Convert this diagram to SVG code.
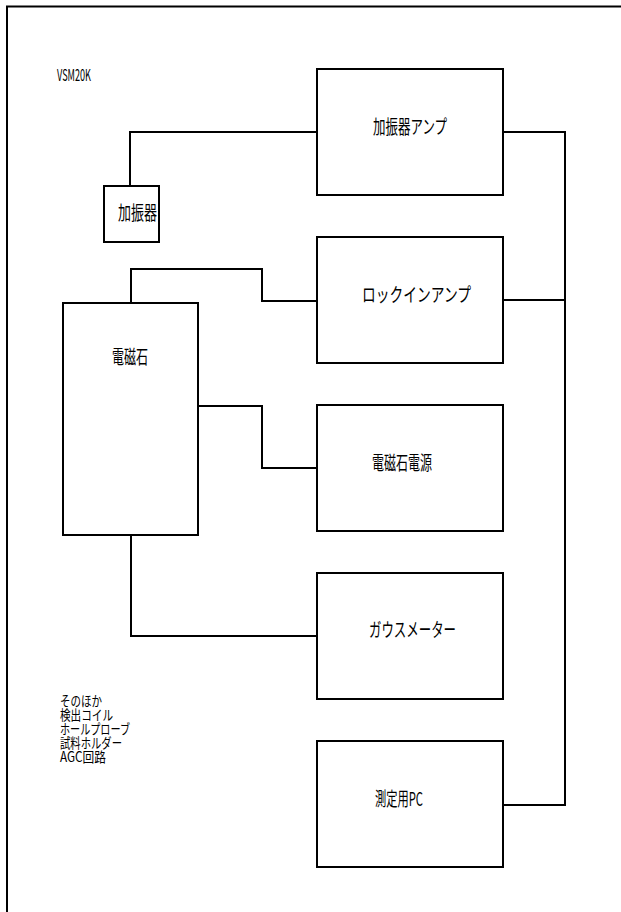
<svg xmlns="http://www.w3.org/2000/svg" width="621" height="912" viewBox="0 0 621 912">
<style>
.b{fill:#fff;stroke:#000;stroke-width:2}
.c{fill:none;stroke:#000;stroke-width:2}
text{font-family:"Noto Sans CJK JP","Liberation Sans",sans-serif;fill:#000;font-size:19px}
.s{font-size:14px}
.t{font-size:16px}
</style>
<rect width="621" height="912" fill="#fff"/>
<path class="c" d="M7,920 V6.5 H630"/>
<g id="connectors">
<path class="c" d="M130,186 V132 H317"/>
<path class="c" d="M131,303 V269 H262 V301 H317"/>
<path class="c" d="M198,406 H262 V468 H317"/>
<path class="c" d="M131,535 V636 H317"/>
<path class="c" d="M503,132 H565 V805 H503"/>
<path class="c" d="M503,300 H565"/>
</g>
<g id="n_amp1"><rect class="b" x="317" y="69" width="186" height="126"/><text x="373" y="134" textLength="74" lengthAdjust="spacingAndGlyphs">加振器アンプ</text></g>
<g id="n_lockin"><rect class="b" x="317" y="237" width="186" height="126"/><text x="362" y="302" textLength="109" lengthAdjust="spacingAndGlyphs">ロックインアンプ</text></g>
<g id="n_psu"><rect class="b" x="317" y="405" width="186" height="126"/><text x="372" y="470" textLength="60" lengthAdjust="spacingAndGlyphs">電磁石電源</text></g>
<g id="n_gauss"><rect class="b" x="317" y="573" width="186" height="126"/><text x="369" y="637" textLength="87" lengthAdjust="spacingAndGlyphs">ガウスメーター</text></g>
<g id="n_pc"><rect class="b" x="317" y="741" width="186" height="126"/><text x="375" y="806" textLength="48" lengthAdjust="spacingAndGlyphs">測定用PC</text></g>
<g id="n_shaker"><rect class="b" x="104" y="186" width="55" height="56"/><text x="118" y="220" textLength="39" lengthAdjust="spacingAndGlyphs">加振器</text></g>
<g id="n_magnet"><rect class="b" x="63" y="303" width="135" height="232"/><text x="112" y="364" textLength="36" lengthAdjust="spacingAndGlyphs">電磁石</text></g>
<g id="title"><text class="t" x="57" y="81" textLength="34" lengthAdjust="spacingAndGlyphs">VSM20K</text></g>
<g id="notes">
<text class="s" x="60" y="706" textLength="42" lengthAdjust="spacingAndGlyphs">そのほか</text>
<text class="s" x="60" y="720" textLength="53" lengthAdjust="spacingAndGlyphs">検出コイル</text>
<text class="s" x="60" y="734" textLength="70" lengthAdjust="spacingAndGlyphs">ホールプローブ</text>
<text class="s" x="60" y="748" textLength="62" lengthAdjust="spacingAndGlyphs">試料ホルダー</text>
<text class="s" x="60" y="762" textLength="46" lengthAdjust="spacingAndGlyphs">AGC回路</text>
</g>
</svg>
